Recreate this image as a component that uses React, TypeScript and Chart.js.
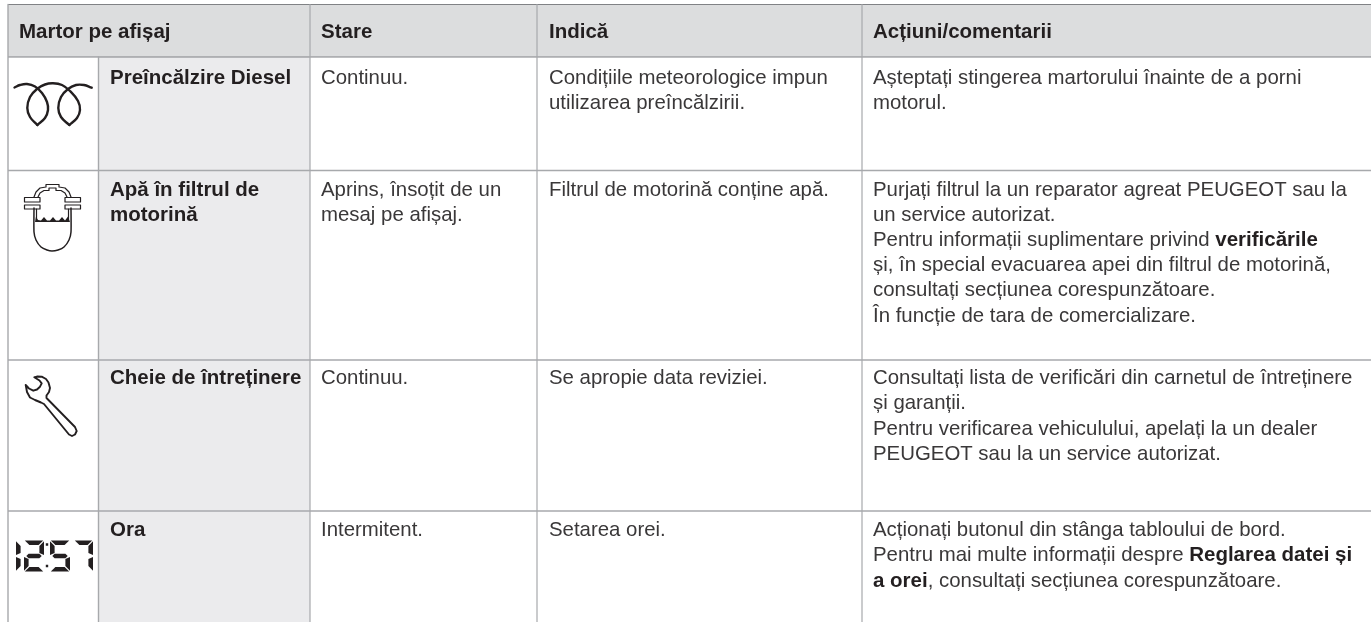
import React, { useEffect, useRef } from "react";
import { Chart, registerables } from "chart.js";

Chart.register(...registerables);

// ---- table content ----
const headers = ["Martor pe afișaj", "Stare", "Indică", "Acțiuni/comentarii"];
const names = [["Preîncălzire Diesel"], ["Apă în filtrul de", "motorină"], ["Cheie de întreținere"], ["Ora"]];
const states = [["Continuu."], ["Aprins, însoțit de un", "mesaj pe afișaj."], ["Continuu."], ["Intermitent."]];
const meanings = [
  ["Condițiile meteorologice impun", "utilizarea preîncălzirii."],
  ["Filtrul de motorină conține apă."],
  ["Se apropie data reviziei."],
  ["Setarea orei."],
];
const actions = [
  ["Așteptați stingerea martorului înainte de a porni", "motorul."],
  [
    "Purjați filtrul la un reparator agreat PEUGEOT sau la",
    "un service autorizat.",
    "Pentru informații suplimentare privind **verificările**",
    "și, în special evacuarea apei din filtrul de motorină,",
    "consultați secțiunea corespunzătoare.",
    "În funcție de tara de comercializare.",
  ],
  [
    "Consultați lista de verificări din carnetul de întreținere",
    "și garanții.",
    "Pentru verificarea vehiculului, apelați la un dealer",
    "PEUGEOT sau la un service autorizat.",
  ],
  [
    "Acționați butonul din stânga tabloului de bord.",
    "Pentru mai multe informații despre **Reglarea datei și**",
    "**a orei**, consultați secțiunea corespunzătoare.",
  ],
];

// ---- table geometry (axis units = px) ----
const W = 1371;
const H = 622;
const tableLeft = 8;
const tableTop = 4.5;
const headerBottom = 57;
const colLines = [98.5, 310, 537, 862];
const rowLines = [170.5, 360, 511];
const headerTextX = [19, 321, 549, 873];
const nameTextX = 110;
const rowTextY = [78, 190, 378.5, 530.5];
const lineStep = 25.2;
const headerTextY = 32;

type P = { x: number; y: number };
const pts = (a: number[][]): P[] => a.map(([x, y]) => ({ x, y }));

// ---- icon outlines ----
const heaterA = [[14.5, 87.5], [20, 85], [27, 84], [35, 86.5], [42, 93], [47, 102], [48, 110], [45, 118], [37.3, 125]];
const heaterB = [[37.3, 125], [30, 117], [27.3, 108], [30, 97], [37, 89], [45, 84.5], [53, 83.3], [62, 85], [70, 91], [78, 101], [80, 110], [77, 118], [69.3, 125]];
const heaterC = [[69.3, 125], [61, 117], [58.3, 108], [61, 97], [68, 89], [76, 85], [84, 85], [91.7, 87.7]];

const filterBody = [[34, 208], [34, 232], [36, 240], [41, 247], [47, 250], [52, 251], [58, 250], [64, 247], [69, 240], [71, 232], [71, 208]];
const filterDomeOuter = [[34, 197], [36, 192], [40, 188], [46, 187], [46, 184.5], [59, 184.5], [59, 187], [65, 188], [69, 192], [71, 197]];
const filterDomeInner = [[38, 197], [40, 193], [44, 190.5], [49, 190.5], [49, 188], [56, 188], [56, 190.5], [61, 190.5], [65, 193], [67, 197]];
const filterPlateL1 = [[24.5, 197.5], [40, 197.5], [40, 202], [24.5, 202], [24.5, 197.5]];
const filterPlateR1 = [[65, 197.5], [80.5, 197.5], [80.5, 202], [65, 202], [65, 197.5]];
const filterPlateL2 = [[24.5, 205], [40, 205], [40, 209], [24.5, 209], [24.5, 205]];
const filterPlateR2 = [[65, 205], [80.5, 205], [80.5, 209], [65, 209], [65, 205]];
const filterInnerWallL = [[36.5, 209], [36.5, 221]];
const filterInnerWallR = [[68.5, 209], [68.5, 221]];
const filterWater = [[35, 222], [36, 216.5], [38, 220], [41, 220.5], [44, 217], [47, 220.5], [50, 220.5], [53, 217], [56, 220.5], [59, 220.5], [62, 217], [65, 220.5], [68, 216.5], [70, 222], [35, 222]];

const wrench = [
  [34.3, 377.3], [37.5, 376.5], [41.7, 376.7], [46, 379], [48.5, 382.5], [50, 388], [49, 392], [46.5, 395.5], [46.5, 398],
  [75, 427], [76.7, 431], [75, 434.5], [72, 436], [69, 434.5], [44, 404], [41, 402.5], [35, 400], [30, 397.5], [27, 392], [25.7, 385],
  [29, 388.5], [33.3, 390.7], [37, 389.5], [40, 386.7], [41.7, 383.3], [39.5, 380.5], [34.3, 377.3],
];

// ---- seven-segment clock "12:57" ----
const digitSegments = ["ef", "abged", "afgcd", "abc"];
const digitBoxes = [[16, 20.5], [24, 44], [50, 70], [74, 93]];
const clockTop = 540.5;
const clockMid = 556;
const clockBottom = 571.5;
const clockStroke = 4.6;
const colonDots = [[47, 544.5], [47, 566]];

function segmentPolygon(seg: string, x0: number, x1: number): number[][] {
  const t = clockStroke;
  const g = 0.8;
  const [T, M, B] = [clockTop, clockMid, clockBottom];
  switch (seg) {
    case "a": return [[x0 + g, T], [x1 - g, T], [x1 - t - g, T + t], [x0 + t + g, T + t]];
    case "d": return [[x0 + t + g, B - t], [x1 - t - g, B - t], [x1 - g, B], [x0 + g, B]];
    case "g": return [[x0 + t, M - t / 2], [x1 - t, M - t / 2], [x1 - t / 2, M], [x1 - t, M + t / 2], [x0 + t, M + t / 2], [x0 + t / 2, M]];
    case "f": return [[x0, T + g], [x0 + t, T + t + g], [x0 + t, M - 3], [x0, M - 1]];
    case "e": return [[x0, M + 1], [x0 + t, M + 3], [x0 + t, B - t - g], [x0, B - g]];
    case "b": return [[x1, T + g], [x1, M - 1], [x1 - t, M - 3], [x1 - t, T + t + g]];
    default: return [[x1, M + 1], [x1, B - g], [x1 - t, B - t - g], [x1 - t, M + 3]];
  }
}

// ---- colours ----
const INK = "#231f20";
const BODY_INK = "#3a3839";
const HEADER_BG = "#dcddde";
const NAME_BG = "#ebebed";
const LINE_DARK = "#808285";
const LINE_MID = "#a7a9ac";
const BODY_FONT = "20.4px 'Liberation Sans', Arial, sans-serif";
const BOLD_FONT = "bold 20.5px 'Liberation Sans', Arial, sans-serif";

function rect(x0: number, y0: number, x1: number, y1: number, color: string) {
  return {
    data: pts([[x0, y0], [x1, y0], [x1, y1], [x0, y1], [x0, y0]]),
    borderWidth: 0,
    borderColor: color,
    backgroundColor: color,
    fill: "shape",
    pointRadius: 0,
    tension: 0,
  };
}
function line(a: number[][], color: string, width: number, tension = 0) {
  return {
    data: pts(a),
    borderColor: color,
    borderWidth: width,
    fill: false,
    pointRadius: 0,
    tension,
    borderCapStyle: "round",
    borderJoinStyle: "round",
  };
}
function solid(a: number[][], color: string) {
  return { ...rect(0, 0, 0, 0, color), data: pts([...a, a[0]]) };
}

function buildDatasets() {
  const ds: any[] = [];
  ds.push(rect(tableLeft, tableTop, W, headerBottom, HEADER_BG));
  ds.push(rect(colLines[0], headerBottom, colLines[1], H, NAME_BG));
  rowLines.forEach((y) => ds.push({ ...line([[tableLeft, y], [W, y]], LINE_MID, 1.4), borderCapStyle: "butt" }));
  ds.push({ ...line([[tableLeft, headerBottom], [W, headerBottom]], LINE_DARK, 1.1), borderCapStyle: "butt" });
  ds.push({ ...line([[tableLeft, tableTop], [W, tableTop]], LINE_DARK, 1.2), borderCapStyle: "butt" });
  ds.push({ ...line([[tableLeft, tableTop], [tableLeft, H]], LINE_MID, 1.4), borderCapStyle: "butt" });
  ds.push({ ...line([[colLines[0], headerBottom], [colLines[0], H]], LINE_MID, 1.4), borderCapStyle: "butt" });
  colLines.slice(1).forEach((x) => ds.push({ ...line([[x, tableTop], [x, H]], LINE_MID, 1.2), borderCapStyle: "butt" }));

  [heaterA, heaterB, heaterC].forEach((p) => ds.push(line(p, INK, 2.4, 0.4)));
  [filterBody].forEach((p) => ds.push(line(p, INK, 1.5, 0.2)));
  [filterDomeOuter, filterDomeInner].forEach((p) => ds.push(line(p, INK, 1.2)));
  [filterPlateL1, filterPlateR1, filterPlateL2, filterPlateR2].forEach((p) => ds.push(line(p, INK, 1.2)));
  [filterInnerWallL, filterInnerWallR].forEach((p) => ds.push(line(p, INK, 1.2)));
  ds.push(solid(filterWater, INK));
  ds.push(line(wrench, INK, 1.9));

  digitSegments.forEach((segs, i) => {
    const [x0, x1] = digitBoxes[i];
    segs.split("").forEach((s) => ds.push(solid(segmentPolygon(s, x0, x1), INK)));
  });
  colonDots.forEach(([x, y]) => ds.push(solid([[x - 1.2, y - 1.2], [x + 1.2, y - 1.2], [x + 1.2, y + 1.2], [x - 1.2, y + 1.2]], INK)));
  return ds;
}

function drawRuns(ctx: CanvasRenderingContext2D, text: string, x: number, y: number, baseBold: boolean) {
  const parts = text.split("**");
  let cx = x;
  parts.forEach((part, i) => {
    if (!part) return;
    const bold = baseBold || i % 2 === 1;
    ctx.font = bold ? BOLD_FONT : BODY_FONT;
    ctx.fillStyle = bold ? INK : BODY_INK;
    ctx.fillText(part, cx, y);
    cx += ctx.measureText(part).width;
  });
}

const tableText = {
  id: "tableText",
  afterDatasetsDraw(chart: any) {
    const { ctx, scales } = chart;
    const sx = (v: number) => scales.x.getPixelForValue(v);
    const sy = (v: number) => scales.y.getPixelForValue(v);
    ctx.save();
    ctx.textBaseline = "middle";
    ctx.textAlign = "left";
    headers.forEach((h, i) => drawRuns(ctx, h, sx(headerTextX[i]), sy(headerTextY), true));
    rowTextY.forEach((y0, r) => {
      names[r].forEach((t, l) => drawRuns(ctx, t, sx(nameTextX), sy(y0 + l * lineStep), true));
      states[r].forEach((t, l) => drawRuns(ctx, t, sx(headerTextX[1]), sy(y0 + l * lineStep), false));
      meanings[r].forEach((t, l) => drawRuns(ctx, t, sx(headerTextX[2]), sy(y0 + l * lineStep), false));
      actions[r].forEach((t, l) => drawRuns(ctx, t, sx(headerTextX[3]), sy(y0 + l * lineStep), false));
    });
    ctx.restore();
  },
};

export default function App() {
  const ref = useRef<HTMLCanvasElement>(null);
  useEffect(() => {
    const chart = new Chart(ref.current!, {
      type: "line",
      data: { datasets: buildDatasets().map((d, i) => ({ ...d, order: -i })) },
      options: {
        animation: false,
        responsive: false,
        parsing: false,
        layout: { padding: 0 },
        events: [],
        scales: {
          x: { type: "linear", min: 0, max: W, display: false },
          y: { type: "linear", min: 0, max: H, reverse: true, display: false },
        },
        plugins: { legend: { display: false }, tooltip: { enabled: false } },
      },
      plugins: [tableText],
    } as any);
    return () => chart.destroy();
  }, []);
  return (
    <canvas
      ref={ref}
      width={W}
      height={H}
      style={{ position: "fixed", left: 0, top: 0, width: W, height: H, display: "block", background: "#fff" }}
    />
  );
}
